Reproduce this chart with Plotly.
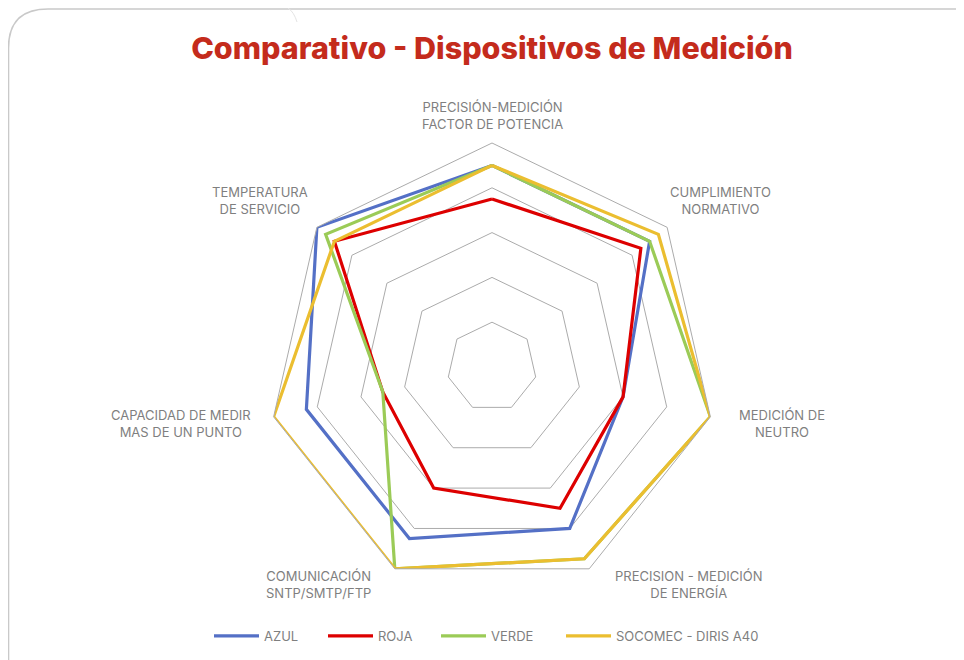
import plotly.graph_objects as go

# ---------------- data ----------------
categories = [
    "PRECISIÓN-MEDICIÓN<br>FACTOR DE POTENCIA",
    "CUMPLIMIENTO<br>NORMATIVO",
    "MEDICIÓN DE<br>NEUTRO",
    "PRECISION - MEDICIÓN<br>DE ENERGÍA",
    "COMUNICACIÓN<br>SNTP/SMTP/FTP",
    "CAPACIDAD DE MEDIR<br>MAS DE UN PUNTO",
    "TEMPERATURA<br>DE SERVICIO",
]
series_names = ["AZUL", "ROJA", "VERDE", "SOCOMEC - DIRIS A40"]
azul = [4.5, 4.5, 3.0, 4.0, 4.25, 4.25, 5.0]
roja = [3.75, 4.25, 3.0, 3.5, 3.0, 2.5, 4.5]
verde = [4.5, 4.5, 5.0, 4.75, 5.0, 2.5, 4.75]
socomec = [4.5, 4.75, 5.0, 4.75, 5.0, 5.0, 4.5]
radial_max = 5
title_text = "Comparativo - Dispositivos de Medición"

# ---------------- styling ----------------
OFF = 8                      # browser body margin
W, H = 964 - OFF, 660 - OFF  # figure size so the page is filled
colors = ["#5470C6", "#DD0000", "#9BCB57", "#EBBE30"]
grid_gray = "#ababab"
label_gray = "#7f7f7f"
FONT = "Inter, Open Sans, sans-serif"

cx, cy, R = 492, 367, 224  # polar centre / radius in page px


def px(x):
    return (x - OFF) / W


def py(y):
    return 1 - (y - OFF) / H


legend_ids = ["legend", "legend2", "legend3", "legend4"]
legend_starts = [215, 329, 442, 567]   # page px where each legend entry begins
LEG_PAD = 6

fig = go.Figure()
for name, vals, col, lid in zip(series_names, [azul, roja, verde, socomec], colors, legend_ids):
    fig.add_trace(go.Scatterpolar(
        r=vals + vals[:1],
        theta=categories + categories[:1],
        mode="lines",
        name=name,
        legend=lid,
        line=dict(color=col, width=3.2),
        hoverinfo="skip",
    ))

# category label placement (page pixel centres, Excel-like)
label_centres = [(492, 116), (720, 201), (782, 423), (688, 584),
                 (318, 584), (181, 423), (260, 201)]
annotations = []
for text, (lx, ly) in zip(categories, label_centres):
    annotations.append(dict(
        text=text, x=px(lx), y=py(ly), xref="paper", yref="paper",
        xanchor="center", yanchor="middle", showarrow=False, align="center",
        font=dict(family=FONT, size=13, color=label_gray),
    ))

# decorative slide frame
frame_path = (f"M {px(8.5)} {py(700)} L {px(8.5)} {py(48)} "
              f"Q {px(8.5)} {py(9)} {px(48)} {py(9)} L {px(1000)} {py(9)}")
shapes = [
    dict(type="path", path=frame_path, xref="paper", yref="paper",
         line=dict(color="#c9c9c9", width=1.6)),
    dict(type="path", xref="paper", yref="paper",
         path=f"M {px(288)} {py(8)} Q {px(294)} {py(12)} {px(297)} {py(22)}",
         line=dict(color="#e4e4e4", width=1)),
]

legend_layout = {}
for lid, xs in zip(legend_ids, legend_starts):
    legend_layout[lid] = dict(
        orientation="h", x=px(xs - LEG_PAD), y=py(636), xanchor="left", yanchor="middle",
        font=dict(family=FONT, size=13, color=label_gray),
        itemwidth=45, bgcolor="rgba(0,0,0,0)",
    )

fig.update_layout(
    width=W, height=H,
    margin=dict(l=0, r=0, t=0, b=0),
    paper_bgcolor="white",
    plot_bgcolor="white",
    title=dict(text=title_text, x=px(492), y=py(48), xanchor="center", yanchor="middle",
               font=dict(family=FONT, size=30.5, color="#C42B1C", weight=800)),
    polar=dict(
        domain=dict(x=[px(cx - R), px(cx + R)], y=[py(cy + R), py(cy - R)]),
        bgcolor="white",
        gridshape="linear",
        radialaxis=dict(range=[0, radial_max], dtick=1, showticklabels=False, ticks="",
                        showline=False, gridcolor=grid_gray, gridwidth=1),
        angularaxis=dict(direction="clockwise", rotation=90, showgrid=False,
                         showticklabels=False, ticks="", showline=True,
                         linecolor=grid_gray, linewidth=1),
    ),
    annotations=annotations,
    shapes=shapes,
    showlegend=True,
    **legend_layout,
)

fig.write_html("out.html")
